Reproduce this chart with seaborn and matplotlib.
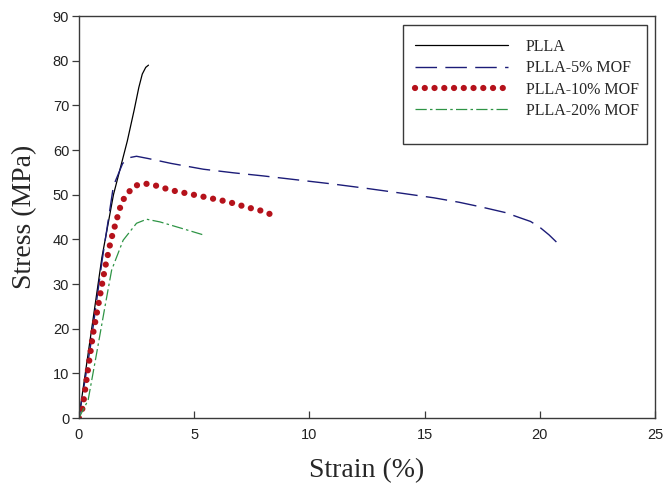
import matplotlib
matplotlib.use("Agg")
import matplotlib.pyplot as plt
from matplotlib.patches import Rectangle
import numpy as np
import pandas as pd
import seaborn as sns

# Tensile stress-strain curves
plla_strain = [0.0, 0.5, 1.0, 1.5, 1.85, 2.1, 2.4, 2.6, 2.75, 2.9, 3.02]
plla_stress = [0.0, 18.0, 36.0, 50.0, 57.0, 62.0, 69.0, 74.0, 77.0, 78.5, 79.0]

mof5_strain = [0.0, 0.5, 1.0, 1.5, 1.9, 2.2, 2.5, 3.0, 4.0, 5.4, 6.7, 8.0, 9.5,
               11.0, 12.5, 13.9, 15.4, 16.5, 17.5, 18.5, 19.1, 19.6, 20.0, 20.4, 20.8]
mof5_stress = [0.0, 16.0, 35.0, 52.0, 57.0, 58.3, 58.6, 58.1, 57.0, 55.7, 54.9, 54.2, 53.3,
               52.4, 51.4, 50.4, 49.3, 48.3, 47.2, 46.0, 44.9, 44.0, 42.7, 41.0, 39.0]

mof10_strain = [0.0, 0.16, 0.33, 0.62, 0.91, 1.13, 1.39, 1.61, 1.85, 2.07, 2.43, 2.84,
                3.23, 4.0, 5.25, 6.48, 7.28, 8.0, 8.5]
mof10_stress = [0.0, 2.2, 8.5, 19.0, 27.2, 33.5, 39.8, 43.9, 48.2, 50.1, 52.0, 52.5,
                52.2, 51.0, 49.7, 48.4, 47.2, 46.3, 45.2]

mof20_strain = [0.0, 0.4, 0.77, 1.13, 1.42, 1.56, 1.92, 2.5, 2.94, 3.52, 4.5, 5.4]
mof20_stress = [0.0, 4.0, 14.5, 24.9, 33.1, 35.0, 39.8, 43.6, 44.5, 43.9, 42.4, 41.0]

series_names = ["PLLA", "PLLA-5% MOF", "PLLA-10% MOF", "PLLA-20% MOF"]
x_ticks = [0, 5, 10, 15, 20, 25]
y_ticks = [0, 10, 20, 30, 40, 50, 60, 70, 80, 90]

sns.set_style("ticks")
plt.rcParams["font.family"] = ["Liberation Sans", "DejaVu Sans"]

fig = plt.figure(figsize=(6.63, 4.88), dpi=100)
ax = fig.add_axes([0.119, 0.1434, 0.869, 0.8238])

styles = [
    dict(color="black", lw=0.9, linestyle="-"),
    dict(color="#1c1c78", lw=1.0, linestyle=(0, (15.5, 6.0))),
    dict(color="#b5121b", lw=4.5, linestyle=(0, (0.01, 1.55)),
         dash_capstyle="round"),
    dict(color="#2e9445", lw=0.9, linestyle=(0, (9.0, 2.6, 2.0, 2.6))),
]
curves = [(plla_strain, plla_stress), (mof5_strain, mof5_stress),
          (mof10_strain, mof10_stress), (mof20_strain, mof20_stress)]

for (xs, ys), name, st in zip(curves, series_names, styles):
    df = pd.DataFrame({"Strain": xs, "Stress": ys})
    sns.lineplot(data=df, x="Strain", y="Stress", ax=ax, sort=False,
                 estimator=None, label=name, **st)

ax.set_xlim(0, 25)
ax.set_ylim(0, 90)
ax.set_xticks(x_ticks)
ax.set_yticks(y_ticks)

for side in ["left", "right", "top", "bottom"]:
    ax.spines[side].set_visible(True)
    ax.spines[side].set_color("#3a3a3a")
    ax.spines[side].set_linewidth(1.0)

ax.tick_params(axis="x", direction="in", length=5, width=0.9, color="#3a3a3a",
               labelsize=10.5, pad=7, labelcolor="#222222")
ax.tick_params(axis="y", direction="out", length=5, width=0.9, color="#3a3a3a",
               labelsize=10.5, pad=2, labelcolor="#222222")

serif = ["Liberation Serif", "DejaVu Serif"]
ax.set_xlabel("Strain (%)", fontsize=20, family=serif, labelpad=12)
ax.set_ylabel("Stress (MPa)", fontsize=20, family=serif, labelpad=11)

# Legend with a separately drawn box behind it
box = Rectangle((403 / 663, 1 - 144 / 488), 244 / 663, 119 / 488,
                transform=fig.transFigure, facecolor="white",
                edgecolor="#3a3a3a", lw=1.0, zorder=4, clip_on=False)
ax.add_patch(box)
leg = ax.legend(loc="upper left", bbox_to_anchor=(415 / 663, 1 - 39 / 488),
                bbox_transform=fig.transFigure, frameon=False, borderpad=0,
                borderaxespad=0, handlelength=5.8, handletextpad=1.15,
                labelspacing=0.33, prop=dict(family=serif, size=11.5))
leg.set_zorder(5)

fig.savefig("out.png", dpi=100)
